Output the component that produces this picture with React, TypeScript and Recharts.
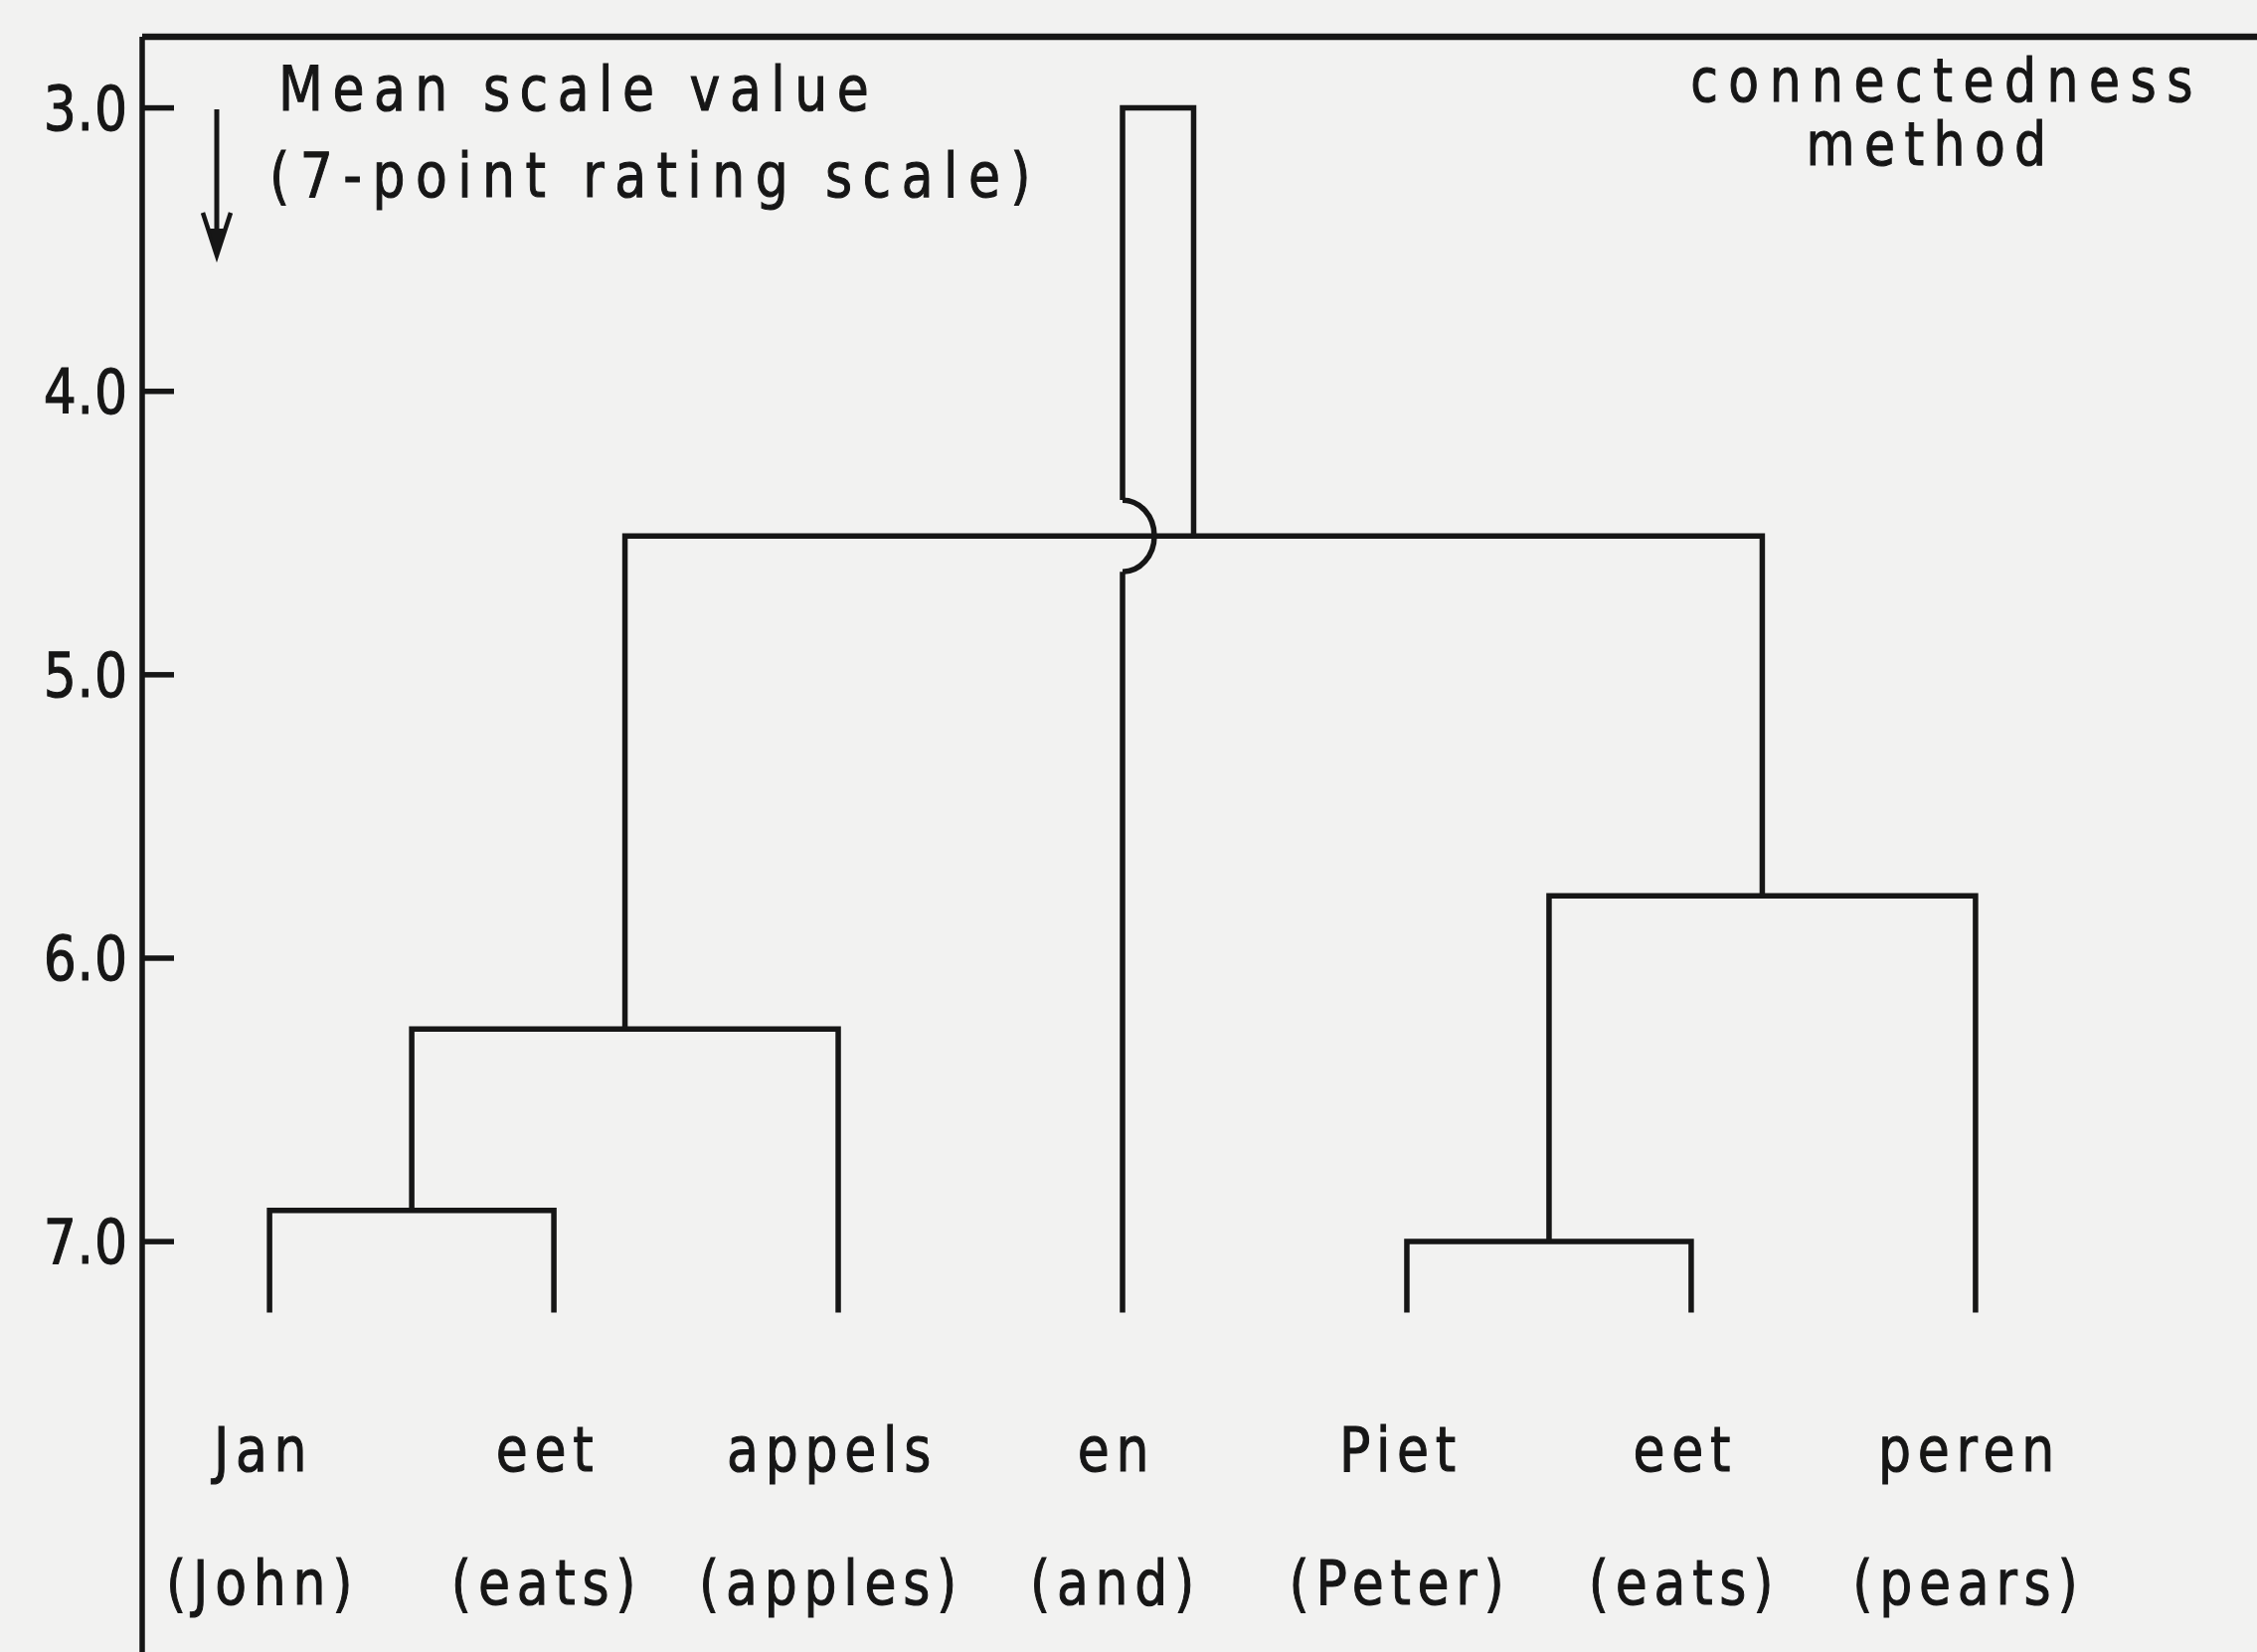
import React from "react";
import { ComposedChart, Line, Scatter, XAxis, YAxis } from "recharts";

// leaves of the dendrogram (left to right) and their English glosses
const words = ["Jan", "eet", "appels", "en", "Piet", "eet", "peren"];
const glosses = ["(John)", "(eats)", "(apples)", "(and)", "(Peter)", "(eats)", "(pears)"];
const leafLevel = 7.25;

// merges in order; nodes 0-6 are the words, node 7 is the first merge, 8 the second ...
const mergeLeft = [0, 7, 4, 9, 8, 3];
const mergeRight = [1, 2, 5, 6, 10, 11];
const mergeHeight = [6.89, 6.25, 7.0, 5.78, 4.51, 3.0];

const yTicks = [3, 4, 5, 6, 7];

const INK = "#161616";
const BG = "#f2f2f1";
const FONT = "'DejaVu Sans', Verdana, sans-serif";
const HOP = 0.127; // half height of the bridge where a line crosses another
const SQUEEZE = 0.84; // the lettering is narrow and tall

type Pt = { x: number; y: number | null };

const nodeX: number[] = words.map((_, i) => i);
const nodeY: number[] = words.map(() => leafLevel);
mergeHeight.forEach((h, k) => {
  nodeX.push((nodeX[mergeLeft[k]] + nodeX[mergeRight[k]]) / 2);
  nodeY.push(h);
});

const hops: { x: number; y: number }[] = [];

// horizontal bars of other merges that a vertical line passes through
function crossings(k: number, x: number, from: number, to: number) {
  const out: number[] = [];
  mergeHeight.forEach((h, j) => {
    if (j === k) return;
    const a = Math.min(nodeX[mergeLeft[j]], nodeX[mergeRight[j]]);
    const b = Math.max(nodeX[mergeLeft[j]], nodeX[mergeRight[j]]);
    if (x > a && x < b && h < from && h > to) out.push(h);
  });
  return out.sort((p, q) => q - p);
}

const links: Pt[][] = mergeHeight.map((h, k) => {
  const l = mergeLeft[k];
  const r = mergeRight[k];
  const pts: Pt[] = [{ x: nodeX[l], y: nodeY[l] }];
  crossings(k, nodeX[l], nodeY[l], h).forEach((c) => {
    hops.push({ x: nodeX[l], y: c });
    pts.push({ x: nodeX[l], y: c + HOP }, { x: nodeX[l], y: null }, { x: nodeX[l], y: c - HOP });
  });
  pts.push({ x: nodeX[l], y: h }, { x: nodeX[r], y: h });
  crossings(k, nodeX[r], nodeY[r], h)
    .reverse()
    .forEach((c) => {
      hops.push({ x: nodeX[r], y: c });
      pts.push({ x: nodeX[r], y: c - HOP }, { x: nodeX[r], y: null }, { x: nodeX[r], y: c + HOP });
    });
  pts.push({ x: nodeX[r], y: nodeY[r] });
  return pts;
});

const leaves = words.map((w, i) => ({ x: i, y: leafLevel, word: w, gloss: glosses[i] }));

function Label({ x, y, anchor = "start", ls = 0, size = 62, dy, children }: any) {
  return (
    <text
      transform={`translate(${x},${y}) scale(${SQUEEZE},1)`}
      dy={dy}
      textAnchor={anchor}
      fill={INK}
      stroke={INK}
      strokeWidth={1.1}
      fontFamily={FONT}
      fontSize={size}
      letterSpacing={ls}
    >
      {children}
    </text>
  );
}

function YTick(props: any) {
  const { x, y, payload } = props;
  return (
    <g>
      <line x1={x} x2={x + 32} y1={y} y2={y} stroke={INK} strokeWidth={5.5} />
      <Label x={x - 14} y={y} dy="0.36em" anchor="end" ls={1}>
        {Number(payload.value).toFixed(1)}
      </Label>
    </g>
  );
}

function LeafLabel(props: any) {
  const { cx, cy, payload } = props;
  return (
    <g>
      <Label x={cx - 6} y={cy + 160} anchor="middle" ls={8}>
        {payload.word}
      </Label>
      <Label x={cx - 7} y={cy + 294} anchor="middle" ls={8}>
        {payload.gloss}
      </Label>
    </g>
  );
}

function Bridge(props: any) {
  const { cx, cy } = props;
  return <path d={`M${cx},${cy - 36} A32,36 0 0 1 ${cx},${cy + 36}`} fill="none" stroke={INK} strokeWidth={5.5} />;
}

export default function App() {
  return (
    <div style={{ position: "absolute", left: 0, top: 0, width: 2270, height: 1662, background: BG, overflow: "hidden" }}>
      <ComposedChart width={2270} height={1662} margin={{ top: 36, right: 0, bottom: 0, left: 0 }}>
        <XAxis
          dataKey="x"
          type="number"
          orientation="top"
          domain={[-0.448, 6.99]}
          allowDataOverflow
          height={1}
          tick={false}
          tickLine={false}
          axisLine={{ stroke: INK, strokeWidth: 6.5 }}
        />
        <YAxis
          dataKey="y"
          type="number"
          reversed
          domain={[2.749, 8.448]}
          allowDataOverflow
          ticks={yTicks}
          interval={0}
          width={143}
          tickSize={0}
          tickMargin={0}
          tickLine={false}
          tick={<YTick />}
          axisLine={{ stroke: INK, strokeWidth: 5.5 }}
        />
        {links.map((pts, k) => (
          <Line
            key={k}
            data={pts}
            dataKey="y"
            type="linear"
            stroke={INK}
            strokeWidth={5.5}
            dot={false}
            activeDot={false}
            connectNulls={false}
            isAnimationActive={false}
          />
        ))}
        <Scatter data={hops} dataKey="y" shape={<Bridge />} isAnimationActive={false} />
        <Scatter data={leaves} dataKey="y" shape={<LeafLabel />} isAnimationActive={false} />
      </ComposedChart>
      <svg width={2270} height={1662} style={{ position: "absolute", left: 0, top: 0, pointerEvents: "none" }}>
        <Label x={280} y={111} ls={11.3}>Mean scale value</Label>
        <Label x={271} y={198} ls={12.4}>(7-point rating scale)</Label>
        <Label x={1958} y={102} anchor="middle" size={60} ls={12.5}>connectedness</Label>
        <Label x={1942} y={166} anchor="middle" size={60} ls={11.2}>method</Label>
        <line x1={218} x2={218} y1={110} y2={250} stroke={INK} strokeWidth={5} />
        <path d="M204,214 L218,257 L232,214" fill="none" stroke={INK} strokeWidth={4.5} />
        <path d="M211,230 L218,259 L225,230 Z" fill={INK} />
      </svg>
    </div>
  );
}
